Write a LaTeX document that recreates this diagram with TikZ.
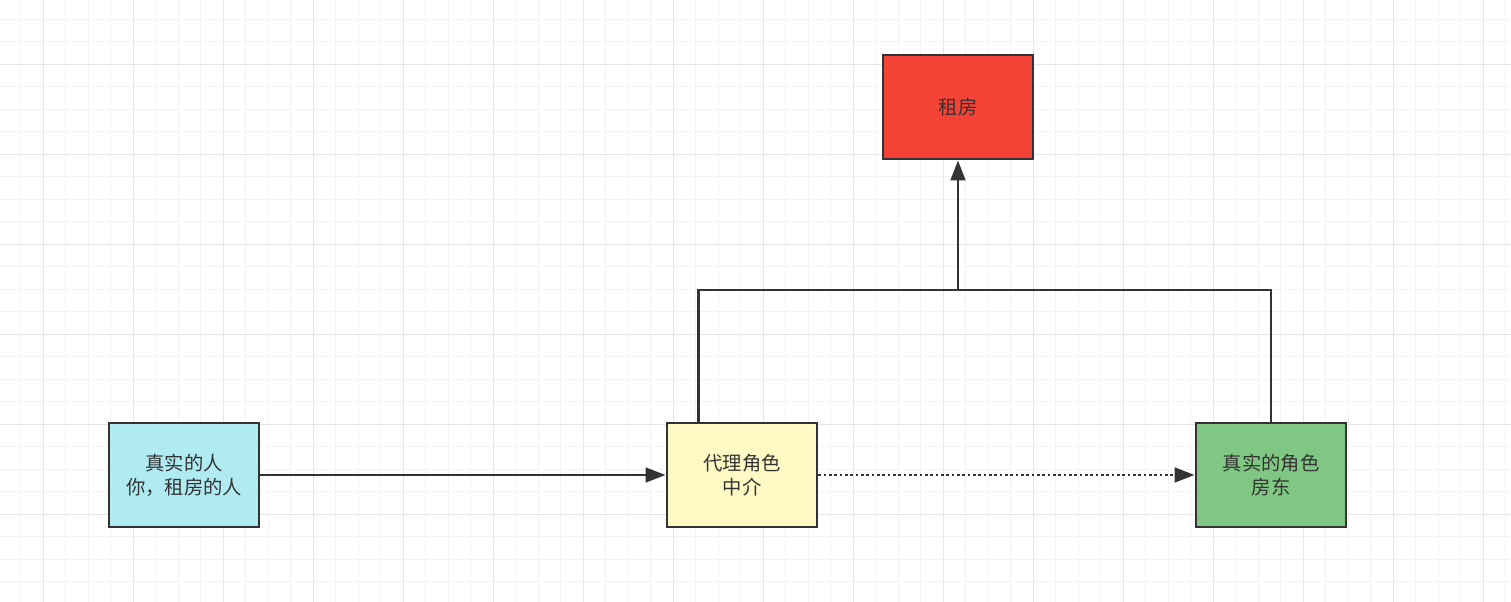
\documentclass[tikz,border=0pt]{standalone}
\usepackage{fontspec}
\setmainfont{Noto Sans CJK SC}
\usetikzlibrary{arrows.meta,calc}
\definecolor{gridminor}{HTML}{F3F3F3}
\definecolor{gridmajor}{HTML}{E6E6E6}
\definecolor{edge}{HTML}{333333}
\definecolor{cblue}{HTML}{B0EBF2}
\definecolor{cyellow}{HTML}{FFF9C4}
\definecolor{cgreen}{HTML}{81C784}
\definecolor{cred}{HTML}{F44336}
\tikzset{
  box/.style={draw=edge, line width=2.2pt, minimum width=112.5pt, minimum height=78pt,
    inner sep=0pt, align=center, text=edge, font=\fontsize{14.5}{18}\selectfont},
  conn/.style={draw=edge, line width=2.1pt},
  arr/.style={conn, -{Triangle[length=15pt,width=11pt]}},
  dotline/.style={arr, dash pattern=on 2pt off 2pt}
}
\begin{document}
\begin{tikzpicture}[x=0.75pt,y=-0.75pt]
\useasboundingbox (0,0) rectangle (1511,602);
\fill[white] (0,0) rectangle (1511,602);
% minor grid
\foreach \i in {0,...,67} {
  \draw[gridminor, line width=1pt] ({-1.7+22.5*\i},0) -- ({-1.7+22.5*\i},602);
}
\foreach \j in {0,...,27} {
  \draw[gridminor, line width=1pt] (0,{-3.2+22.5*\j}) -- (1511,{-3.2+22.5*\j});
}
% major grid
\foreach \i in {0,...,16} {
  \draw[gridmajor, line width=1pt] ({43.3+90*\i},0) -- ({43.3+90*\i},602);
}
\foreach \j in {0,...,6} {
  \draw[gridmajor, line width=1pt] (0,{64.3+90*\j}) -- (1511,{64.3+90*\j});
}
% nodes
\node[box, fill=cblue] (person) at (184,475) {真实的人\\你，租房的人};
\node[box, fill=cyellow] (agent) at (742,475) {代理角色\\中介};
\node[box, fill=cgreen] (landlord) at (1271,475) {真实的角色\\房东};
\node[box, fill=cred] (rent) at (958,107) {租房};
% connectors
\draw[arr] (person.east) -- (agent.west);
\draw[dotline] (agent.east) -- (landlord.west);
\coordinate (atop) at ([xshift=24.75pt]agent.north west);
\coordinate (junc) at (958,290);
\draw[conn] (atop) |- (junc) -| (landlord.north);
\draw[arr] (junc) -- (rent.south);
\end{tikzpicture}
\end{document}
